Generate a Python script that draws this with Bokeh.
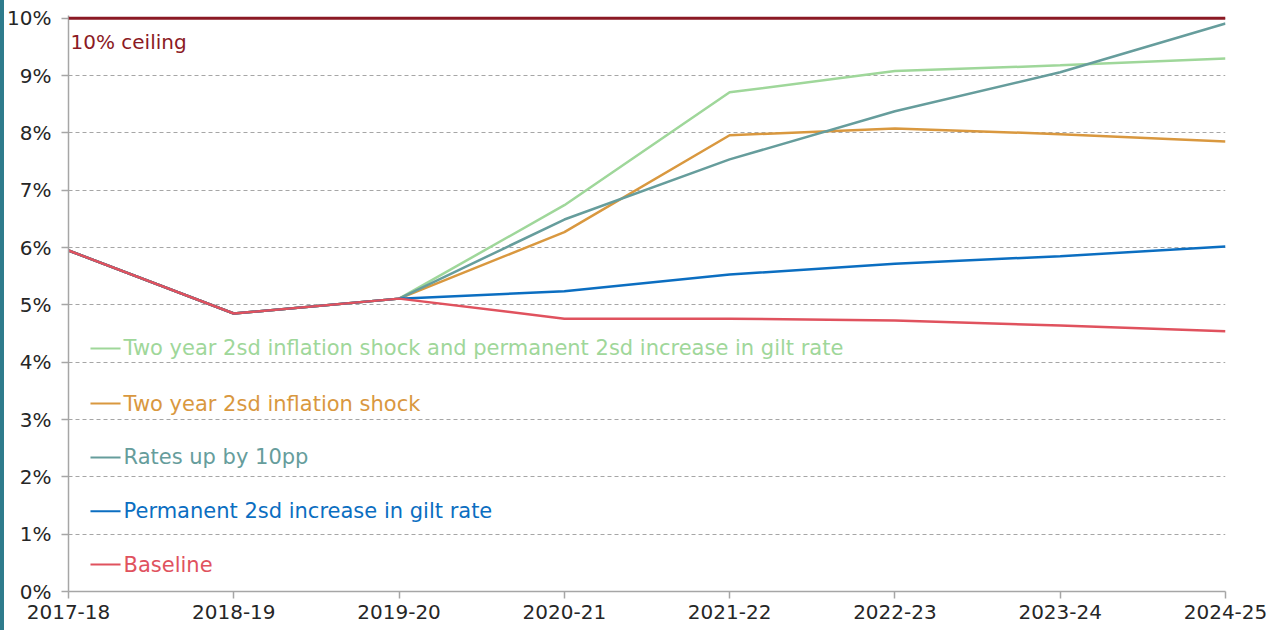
from bokeh.plotting import figure
from bokeh.models import Range1d, FixedTicker, Label, Span, Div
from bokeh.layouts import row
from bokeh.embed import file_html
from bokeh.resources import INLINE

years = ["2017-18", "2018-19", "2019-20", "2020-21", "2021-22", "2022-23", "2023-24", "2024-25"]
baseline = [5.95, 4.85, 5.11, 4.76, 4.76, 4.73, 4.64, 4.54]
gilt_2sd = [5.95, 4.85, 5.11, 5.24, 5.53, 5.72, 5.85, 6.02]
rates_10pp = [5.95, 4.85, 5.11, 6.49, 7.54, 8.38, 9.06, 9.91]
infl_2sd = [5.95, 4.85, 5.11, 6.27, 7.96, 8.08, 7.98, 7.85]
infl_gilt = [5.95, 4.85, 5.11, 6.74, 8.71, 9.08, 9.18, 9.30]
ceiling = 10
y_ticks = [0, 1, 2, 3, 4, 5, 6, 7, 8, 9, 10]

series = [
    ("Two year 2sd inflation shock and permanent 2sd increase in gilt rate", infl_gilt, "#9fd79a", 4.24),
    ("Two year 2sd inflation shock", infl_2sd, "#d9983f", 3.28),
    ("Rates up by 10pp", rates_10pp, "#669d9c", 2.34),
    ("Permanent 2sd increase in gilt rate", gilt_2sd, "#0b6ec1", 1.40),
    ("Baseline", baseline, "#e0525e", 0.47),
]

FONT = "DejaVu Sans"
xs = list(range(len(years)))

p = figure(width=1266, height=630, output_backend="svg", toolbar_location=None,
           x_range=Range1d(0, len(years) - 1), y_range=Range1d(0, 10.05),
           min_border_left=50, min_border_right=45, min_border_top=15, min_border_bottom=39,
           margin=0)
p.outline_line_color = None
p.background_fill_color = "white"

p.xaxis.ticker = FixedTicker(ticks=xs)
p.xaxis.major_label_overrides = {i: y for i, y in enumerate(years)}
p.yaxis.ticker = FixedTicker(ticks=y_ticks)
p.yaxis.major_label_overrides = {v: f"{v}%" for v in y_ticks}
for ax in (p.xaxis[0], p.yaxis[0]):
    ax.axis_line_color = "#a6a6a6"
    ax.axis_line_width = 1.5
    ax.major_tick_line_color = "#a6a6a6"
    ax.major_tick_line_width = 1.5
    ax.major_tick_out = 7
    ax.major_tick_in = 0
    ax.minor_tick_line_color = None
    ax.major_label_text_font = FONT
    ax.major_label_text_font_size = "20px"
    ax.major_label_text_color = "#262626"
p.yaxis.major_label_standoff = 10
p.xaxis.major_label_standoff = 6
p.xgrid.grid_line_color = None
p.ygrid.grid_line_color = "#a6a6a6"
p.ygrid.grid_line_dash = "4 3"
p.ygrid.grid_line_width = 1

for name, vals, color, ly in series:
    p.line(xs, vals, line_color=color, line_width=2.5)

p.add_layout(Span(location=ceiling, dimension="width", line_color="#8b1a24", line_width=3))
p.add_layout(Label(x=0.012, y=ceiling - 0.42, text="10% ceiling", text_color="#8b1a24",
                   text_font=FONT, text_font_size="20px", text_baseline="middle"))

for name, vals, color, ly in series:
    p.segment(x0=[0.133], y0=[ly], x1=[0.315], y1=[ly], line_color=color, line_width=2)
    p.add_layout(Label(x=0.333, y=ly, text=name, text_color=color,
                       text_font=FONT, text_font_size="21px", text_baseline="middle"))

bar = Div(width=4, height=630, margin=0, styles={"background-color": "#2e7b8c"})
layout = row(bar, p, spacing=0, margin=0)

open("out.html", "w").write(file_html(layout, INLINE))
